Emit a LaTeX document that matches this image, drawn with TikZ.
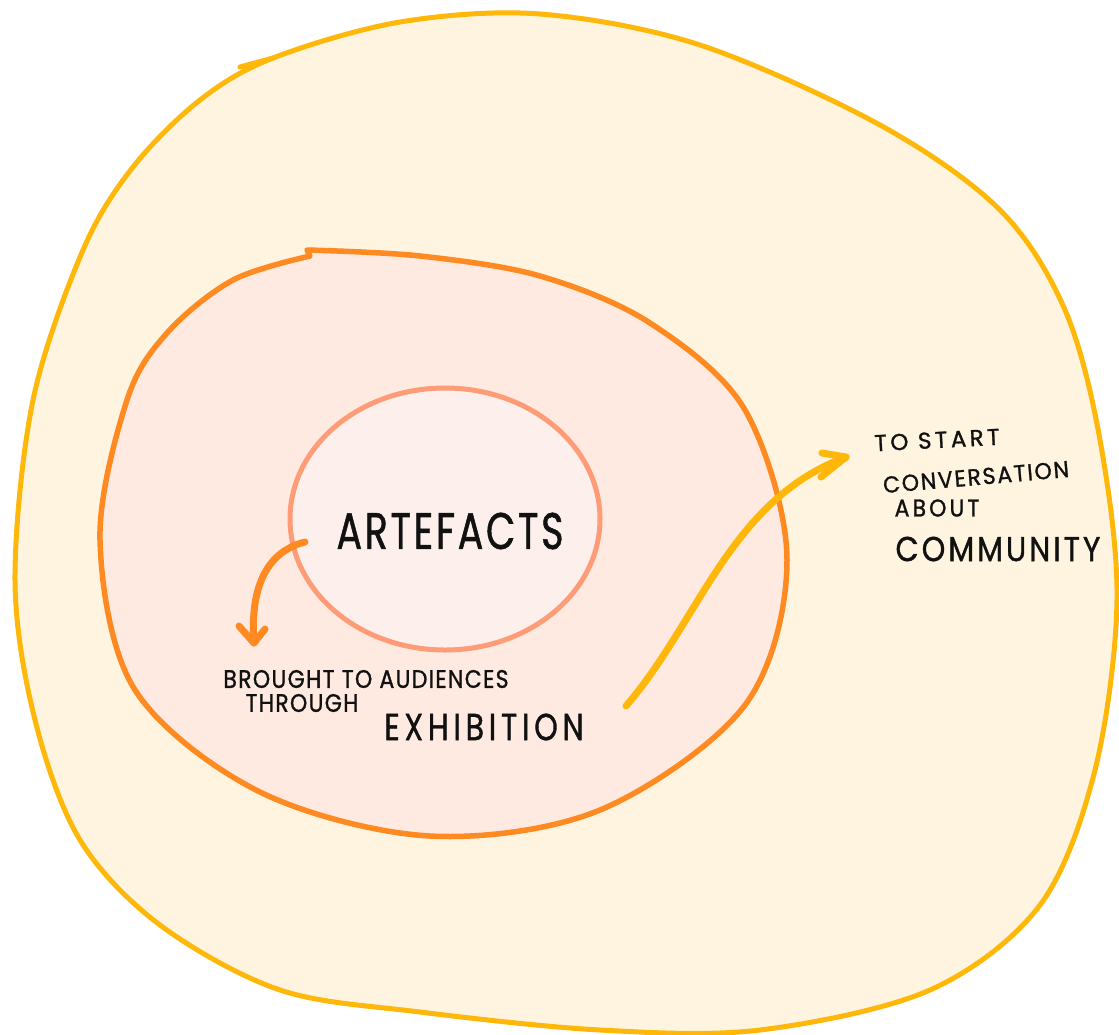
\documentclass[tikz,border=0pt]{standalone}
\usepackage{fontspec}
\usepackage{graphicx}
\setmainfont{Poppins}
\definecolor{outerline}{HTML}{FFB70A}
\definecolor{outerfill}{HTML}{FEF4DF}
\definecolor{midline}{HTML}{FF8A22}
\definecolor{midfill}{HTML}{FEEAE0}
\definecolor{innerline}{HTML}{FF9C78}
\definecolor{innerfill}{HTML}{FDEFEC}
\definecolor{ink}{HTML}{111111}
\newcommand{\hw}[3]{\fontsize{#1}{#1}\selectfont\addfontfeature{LetterSpace=#2,FakeBold=1.2}\scalebox{1}[#3]}
\tikzset{
  blob/.style={line width=5pt, line join=round, line cap=round},
  hand/.style={text=ink, inner sep=0pt, anchor=center},
  arrowline/.style={line width=7pt, line cap=round, line join=round},
}
\begin{document}
\begin{tikzpicture}[x=1pt,y=1pt]
\useasboundingbox (0,0) rectangle (1119,-1034);
% outer blob
\draw[blob, draw=outerline, fill=outerfill]
  plot[smooth cycle, tension=0.55] coordinates {
   (273,-58) (400,-22) (540,-14) (700,-45) (880,-125) (1000,-210) (1065,-310)
   (1100,-440) (1117,-600) (1095,-770) (1040,-905) (930,-990) (760,-1030)
   (600,-1030) (420,-1012) (280,-990) (160,-925) (80,-840) (35,-720) (15,-580)
   (33,-400) (83,-250) (133,-167) (200,-100)};
\draw[line width=5pt, outerline, line cap=round] (240,-67) -- (273,-58);
% middle blob
\draw[blob, line width=5.5pt, draw=midline, fill=midfill]
  plot[smooth, tension=0.55] coordinates {
   (307,-250) (420,-256) (540,-276) (650,-323) (745,-410) (787,-560) (745,-705)
   (600,-810) (430,-836) (260,-792) (135,-690) (100,-540) (127,-400)
   (167,-333) (233,-280) (310,-256)} -- cycle;
% inner circle
\draw[blob, draw=innerline, fill=innerfill] (445,-519) ellipse [x radius=155, y radius=131];

% texts
\node[hand] (artefacts) at (450,-531) {\hw{38}{7}{1.35}{ARTEFACTS}};
\node[hand] (brought) at (366,-679) {\hw{22}{6}{1.15}{BROUGHT TO AUDIENCES}};
\node[hand] (through) at (302,-703) {\hw{22}{6}{1.15}{THROUGH}};
\node[hand] (exhibition) at (484,-727) {\hw{30}{16}{1.25}{EXHIBITION}};
\node[hand, rotate=3] (tostart) at (937,-440) {\hw{23}{15}{1.0}{TO START}};
\node[hand, rotate=5] (conversation) at (976,-477) {\hw{22}{8}{1.05}{CONVERSATION}};
\node[hand] (about) at (937,-508) {\hw{22}{14}{1.1}{ABOUT}};
\node[hand] (community) at (998,-549) {\hw{30}{10}{1.15}{COMMUNITY}};

% orange arrow
\coordinate (oa) at (305,-542);
\coordinate (ob) at (254,-643);
\draw[arrowline, midline] (oa) .. controls (265,-552) and (250,-590) .. (ob);
\draw[arrowline, midline] (239,-626) -- (ob) -- (265,-629);
% yellow arrow
\coordinate (ya) at (626,-706);
\coordinate (yb) at (846,-457);
\draw[arrowline, outerline] (ya) .. controls (700,-620) and (730,-500) .. (yb);
\draw[arrowline, outerline] (822,-453) -- (yb) -- (821,-477);
\end{tikzpicture}
\end{document}
